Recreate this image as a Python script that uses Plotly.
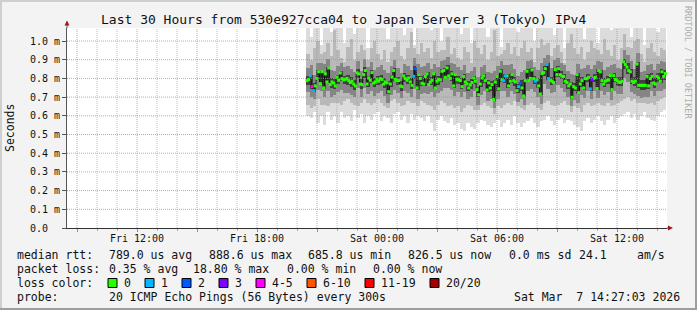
import plotly.graph_objects as go
import pandas as pd

# ---------------- data ----------------
# median RTT per 5-minute step, microseconds (Fri 20:30 .. Sat 14:25)
MEDIAN_US = [
    788, 794, 813, 756, 735, 760, 800, 836, 772, 836, 749, 824,
    781, 856, 767, 781, 775, 760, 806, 790, 829, 799, 792, 795,
    800, 788, 778, 785, 770, 760, 829, 824, 770, 767, 820, 842,
    770, 802, 790, 831, 775, 781, 794, 785, 799, 794, 770, 781,
    776, 729, 770, 808, 842, 795, 788, 788, 760, 756, 813, 799,
    790, 802, 781, 763, 811, 852, 749, 820, 800, 774, 770, 810,
    824, 767, 780, 790, 824, 749, 785, 794, 792, 838, 842, 806,
    856, 813, 800, 824, 760, 820, 795, 792, 788, 756, 810, 781,
    770, 749, 765, 778, 802, 785, 740, 713, 770, 802, 813, 788,
    738, 776, 749, 767, 687, 781, 810, 744, 838, 792, 788, 813,
    813, 760, 785, 820, 788, 781, 735, 756, 774, 749, 706, 788,
    838, 788, 800, 845, 799, 785, 792, 760, 717, 826, 831, 852,
    874, 799, 790, 785, 778, 847, 820, 852, 820, 812, 810, 785,
    778, 760, 770, 699, 756, 749, 820, 724, 770, 788, 749, 799,
    799, 806, 744, 794, 800, 806, 746, 842, 835, 788, 770, 785,
    790, 792, 815, 740, 815, 794, 788, 781, 778, 785, 888, 874,
    860, 842, 835, 785, 778, 785, 877, 763, 763, 763, 763, 763,
    811, 760, 799, 811, 776, 770, 811, 802, 785, 835, 810, 826,
]
# lost pings (of 20) per step, only the non-zero ones
LOST_PINGS = {2: 1, 3: 4, 4: 1, 64: 1, 65: 2, 118: 1, 119: 1, 127: 1,
              128: 2, 137: 1, 144: 1, 145: 1, 170: 1, 171: 3}

# smoke spread per 10-minute column, microseconds (min .. max and inner ranks)
SMOKE_MAX = [
    1100, 1020, 1100, 1100, 980, 1100, 1100, 1050, 1100, 1100, 1100, 990,
    1100, 1100, 1040, 1100, 1100, 1100, 960, 1100, 1100, 1070, 1100, 1100,
    1010, 1100, 1100, 1100, 1100, 1030, 1100, 1100, 980, 1100, 1100, 1100,
    1100, 1060, 1100, 1100, 1000, 1100, 1100, 1100, 1100, 1100, 1040, 1100,
    1100, 990, 1100, 1100, 1100, 1100, 1020, 1100, 1100, 1100, 970, 1100,
    1100, 1100, 1100, 1050, 1100, 1100, 1100, 1100, 1000, 1100, 1100, 1100,
    1100, 1100, 1030, 1100, 1100, 960, 1100, 1100, 1100, 1100, 1100, 1010,
    1100, 1100, 1100, 990, 1100, 1100, 1100, 1060, 1100, 1100, 1100, 1100,
    1100, 1020, 1100, 1100, 1100, 980, 1100, 1100, 1100, 1050, 1100, 1100,
]
SMOKE_P90 = [
    930, 900, 960, 1000, 930, 940, 990, 920, 1060, 950, 910, 890,
    970, 1010, 900, 940, 980, 950, 900, 960, 1000, 930, 900, 950,
    890, 940, 970, 1000, 920, 900, 960, 1050, 960, 930, 990, 940,
    960, 910, 1000, 940, 950, 950, 1020, 930, 960, 910, 900, 970,
    940, 880, 1000, 960, 930, 980, 900, 940, 1060, 920, 930, 950,
    990, 930, 970, 920, 960, 1000, 940, 960, 890, 960, 1010, 980,
    990, 920, 960, 980, 940, 880, 990, 1040, 960, 930, 970, 900,
    940, 1000, 960, 950, 930, 1010, 950, 920, 980, 900, 960, 1040,
    970, 960, 1000, 1010, 930, 890, 960, 990, 940, 920, 960, 950,
]
SMOKE_P75 = [
    855, 870, 820, 885, 880, 875, 905, 845, 840, 865, 880, 860,
    865, 850, 835, 895, 840, 905, 860, 890, 845, 860, 870, 845,
    830, 865, 900, 855, 830, 875, 865, 845, 910, 875, 860, 865,
    880, 850, 875, 860, 895, 900, 915, 885, 875, 860, 845, 870,
    830, 840, 860, 805, 860, 870, 835, 830, 840, 865, 895, 870,
    870, 875, 850, 815, 835, 845, 895, 900, 860, 845, 880, 910,
    925, 855, 900, 910, 885, 870, 840, 825, 820, 875, 850, 855,
    870, 850, 870, 895, 890, 845, 860, 870, 875, 855, 850, 950,
    925, 895, 850, 935, 835, 840, 870, 875, 845, 875, 895, 890,
]
SMOKE_P60 = [
    815, 820, 775, 845, 840, 830, 860, 800, 795, 820, 840, 815,
    820, 805, 790, 850, 795, 860, 815, 845, 800, 815, 820, 800,
    785, 820, 855, 810, 785, 830, 820, 800, 865, 830, 815, 820,
    835, 805, 830, 815, 850, 855, 870, 840, 830, 815, 800, 825,
    785, 795, 815, 755, 815, 825, 790, 785, 790, 820, 850, 825,
    825, 830, 805, 770, 790, 795, 850, 855, 815, 800, 835, 865,
    880, 810, 855, 865, 840, 825, 795, 780, 775, 830, 805, 810,
    825, 805, 825, 850, 845, 800, 815, 825, 830, 810, 805, 905,
    880, 850, 805, 890, 790, 790, 825, 830, 800, 830, 850, 845,
]
SMOKE_P40 = [
    765, 745, 725, 790, 770, 745, 775, 750, 745, 770, 785, 770,
    765, 755, 740, 800, 745, 800, 755, 775, 755, 765, 770, 750,
    715, 755, 785, 765, 735, 780, 770, 745, 795, 740, 760, 760,
    760, 765, 745, 765, 780, 795, 800, 785, 750, 770, 745, 770,
    735, 745, 770, 700, 755, 775, 725, 735, 680, 735, 780, 775,
    750, 775, 760, 720, 735, 700, 780, 790, 770, 750, 710, 815,
    790, 765, 770, 810, 795, 770, 745, 690, 730, 715, 755, 740,
    780, 735, 780, 740, 775, 755, 770, 730, 780, 760, 760, 850,
    825, 770, 760, 750, 740, 740, 745, 780, 750, 780, 775, 790,
]
SMOKE_P25 = [
    725, 700, 690, 740, 730, 700, 735, 700, 710, 725, 740, 720,
    720, 710, 700, 750, 700, 750, 715, 730, 705, 720, 730, 705,
    670, 710, 740, 720, 695, 735, 720, 700, 745, 690, 715, 720,
    715, 725, 700, 720, 735, 750, 750, 740, 705, 725, 700, 725,
    690, 700, 730, 660, 710, 730, 680, 690, 640, 690, 735, 730,
    700, 730, 715, 675, 690, 660, 735, 745, 725, 700, 665, 770,
    745, 720, 725, 765, 750, 725, 700, 650, 685, 670, 710, 695,
    735, 690, 735, 695, 730, 710, 725, 685, 735, 715, 715, 800,
    780, 725, 715, 705, 695, 700, 700, 735, 705, 735, 730, 745,
]
SMOKE_P10 = [
    660, 640, 650, 690, 660, 660, 650, 670, 670, 670, 660, 680,
    690, 670, 660, 650, 670, 690, 670, 660, 670, 690, 670, 650,
    640, 680, 690, 670, 650, 660, 680, 670, 670, 650, 680, 670,
    660, 650, 630, 660, 680, 670, 650, 660, 640, 650, 620, 640,
    660, 650, 630, 630, 660, 670, 650, 640, 610, 650, 640, 660,
    670, 660, 680, 650, 640, 630, 660, 670, 660, 640, 630, 670,
    680, 660, 650, 660, 670, 680, 660, 620, 650, 640, 620, 660,
    670, 650, 660, 670, 660, 650, 670, 650, 660, 670, 680, 690,
    700, 680, 690, 670, 670, 670, 665, 670, 660, 680, 690, 700,
]
SMOKE_MIN = [
    600, 590, 620, 560, 600, 550, 620, 580, 600, 560, 620, 590,
    600, 570, 630, 590, 610, 560, 600, 580, 610, 620, 570, 600,
    590, 560, 610, 620, 580, 600, 560, 610, 580, 600, 590, 570,
    600, 560, 520, 580, 600, 570, 560, 590, 550, 560, 530, 520,
    560, 540, 530, 560, 580, 570, 550, 540, 560, 580, 540, 560,
    580, 550, 600, 560, 540, 560, 570, 590, 560, 540, 570, 580,
    600, 570, 550, 580, 590, 560, 580, 570, 550, 540, 520, 570,
    590, 560, 580, 600, 570, 550, 580, 600, 560, 590, 600, 610,
    620, 590, 610, 580, 600, 620, 590, 580, 570, 600, 620, 630,
]

LOSS_LABELS = ["0", "1", "2", "3", "4-5", "6-10", "11-19", "20/20"]
LOSS_COLORS = ["#26ff00", "#00b8ff", "#0059ff", "#7e00ff",
               "#ff00ff", "#ff5500", "#ff0000", "#a00000"]

Y_TICKS = [0.0, 0.1, 0.2, 0.3, 0.4, 0.5, 0.6, 0.7, 0.8, 0.9, 1.0]
Y_TICK_TEXT = ["0.0\u00a0\u00a0", "0.1 m", "0.2 m", "0.3 m", "0.4 m", "0.5 m",
               "0.6 m", "0.7 m", "0.8 m", "0.9 m", "1.0 m"]
X_TICKS = ["2026-03-06 09:00", "2026-03-06 12:00", "2026-03-06 15:00",
           "2026-03-06 18:00", "2026-03-06 21:00", "2026-03-07 00:00",
           "2026-03-07 03:00", "2026-03-07 06:00", "2026-03-07 09:00",
           "2026-03-07 12:00"]
X_TICK_TEXT = ["", "Fri 12:00", "", "Fri 18:00", "", "Sat 00:00", "",
               "Sat 06:00", "", "Sat 12:00"]

TITLE = "Last 30 Hours from 530e927cca04 to Japan Server 3 (Tokyo) IPv4"
ROW1 = [("median rtt:", 16), ("789.0 us avg", 107.6), ("888.6 us max", 207.6),
        ("685.8 us min", 307), ("826.5 us now", 407), ("0.0 ms sd", 507.6),
        ("24.1", 577.5), ("am/s", 635.6)]
ROW2 = [("packet loss:", 16), ("0.35 % avg", 107.6), ("18.80 % max", 192.4),
        ("0.00 % min", 285.8), ("0.00 % now", 371.6)]
ROW4 = [("probe:", 16), ("20 ICMP Echo Pings (56 Bytes) every 300s", 107.6),
        ("Sat Mar\u00a0\u00a07 14:27:03 2026", 513)]

# ---------------- figure ----------------
W, H = 697, 310
L, R, T, B = 67, 30, 28, 82
PW, PH = W - L - R, H - T - B
FONT = "DejaVu Sans Mono"
TXT = "#111111"


def px(x):
    return (x - L) / PW


def py(y):
    return (H - B - y) / PH


t_med = pd.date_range("2026-03-06 20:30", periods=len(MEDIAN_US), freq="5min")
t_smk = pd.date_range("2026-03-06 20:32:30", periods=len(SMOKE_MAX), freq="10min")
med = [v / 1000 for v in MEDIAN_US]

fig = go.Figure()


def band(lo, hi, color):
    fig.add_trace(go.Bar(
        x=t_smk, base=[a / 1000 for a in lo],
        y=[(b - a) / 1000 for a, b in zip(lo, hi)],
        width=600000, marker=dict(color=color, line=dict(width=0)),
        hoverinfo="skip"))


band(SMOKE_MIN, SMOKE_MAX, "#dcdcdc")
band(SMOKE_P10, SMOKE_P90, "#b9b9b9")
band(SMOKE_P25, SMOKE_P75, "#858585")
band(SMOKE_P40, SMOKE_P60, "#404040")

fig.add_trace(go.Scatter(x=t_med, y=med, mode="lines",
                         line=dict(color="#111111", width=1, shape="hvh"),
                         hoverinfo="skip"))


def loss_class(n):
    if n <= 3:
        return n
    if n <= 5:
        return 4
    if n <= 10:
        return 5
    if n <= 19:
        return 6
    return 7


cls = [loss_class(LOST_PINGS.get(i, 0)) for i in range(len(med))]
for c, col in enumerate(LOSS_COLORS):
    xs = [t for t, k in zip(t_med, cls) if k == c]
    ys = [v for v, k in zip(med, cls) if k == c]
    if xs:
        fig.add_trace(go.Scatter(x=xs, y=ys, mode="markers",
                                 marker=dict(symbol="square", size=3, color=col,
                                             line=dict(width=0)),
                                 hoverinfo="skip"))

shapes = []
# grid (drawn above the smoke, like rrdtool)
MAJ = "rgba(245,110,110,0.75)"
MIN = "rgba(150,150,150,0.6)"
hours = pd.date_range("2026-03-06 09:00", "2026-03-07 14:00", freq="1h")
major_set = set(pd.to_datetime(X_TICKS))
for hh in hours:
    shapes.append(dict(type="line", xref="x", yref="paper", x0=hh, x1=hh, y0=0, y1=1,
                       line=dict(color=MAJ if hh in major_set else MIN, width=1,
                                 dash="1px,1px"), layer="above"))
for v in Y_TICKS[1:]:
    shapes.append(dict(type="line", xref="paper", yref="y", x0=0, x1=1, y0=v, y1=v,
                       line=dict(color=MAJ, width=1, dash="1px,1px"), layer="above"))

# axis extensions and arrows
shapes.append(dict(type="line", xref="paper", yref="paper", x0=0, x1=0,
                   y0=1, y1=py(22), line=dict(color="#555555", width=1)))
shapes.append(dict(type="line", xref="paper", yref="paper", x0=1, x1=px(670),
                   y0=0, y1=0, line=dict(color="#333333", width=1)))
shapes.append(dict(type="path", xref="paper", yref="paper",
                   path=f"M {px(64.5)},{py(25.5)} L {px(67)},{py(20.5)} L {px(69.5)},{py(25.5)} Z",
                   fillcolor="#a01818", line=dict(width=0)))
shapes.append(dict(type="path", xref="paper", yref="paper",
                   path=f"M {px(668)},{py(225.5)} L {px(673)},{py(228)} L {px(668)},{py(230.5)} Z",
                   fillcolor="#a01818", line=dict(width=0)))

# 3D frame
shapes.append(dict(type="line", xref="paper", yref="paper", x0=px(0), x1=px(W),
                   y0=py(1), y1=py(1), line=dict(color="#cfcfcf", width=2)))
shapes.append(dict(type="line", xref="paper", yref="paper", x0=px(1), x1=px(1),
                   y0=py(0), y1=py(H), line=dict(color="#cfcfcf", width=2)))
shapes.append(dict(type="line", xref="paper", yref="paper", x0=px(0), x1=px(W),
                   y0=py(H - 1), y1=py(H - 1), line=dict(color="#9e9e9e", width=2)))
shapes.append(dict(type="line", xref="paper", yref="paper", x0=px(W - 1), x1=px(W - 1),
                   y0=py(0), y1=py(H), line=dict(color="#9e9e9e", width=2)))

# loss colour legend boxes
BOX_X = [108, 145, 182, 219, 256, 307, 365, 430]
LAB_X = [123, 160, 197, 234, 271, 322, 380, 445]
for bx, col in zip(BOX_X, LOSS_COLORS):
    shapes.append(dict(type="rect", xref="paper", yref="paper",
                       x0=px(bx), x1=px(bx + 9), y0=py(278.5), y1=py(287.5),
                       fillcolor=col, line=dict(color="#000000", width=1)))

ann = []


def text(s, x, y, size=11.5, anchor="left", angle=0, color=TXT):
    ann.append(dict(text=s.replace("  ", "\u00a0\u00a0"), x=px(x), y=py(y),
                    xref="paper", yref="paper", xanchor=anchor, yanchor="middle",
                    showarrow=False, textangle=angle, borderpad=0,
                    font=dict(family=FONT, size=size, color=color)))


text(TITLE, 100, 19, size=13)
text("Seconds", 10, 128, anchor="center", angle=-90)
text("RRDTOOL / TOBI OETIKER", 688, 62, size=8.5, anchor="center", angle=90,
     color="#acacac")
for s, x in ROW1:
    text(s, x, 255)
for s, x in ROW2:
    text(s, x, 269)
text("loss color:", 16, 283)
for s, x in zip(LOSS_LABELS, LAB_X):
    text(s, x, 283)
for s, x in ROW4:
    text(s, x, 297)

fig.update_layout(
    width=W, height=H, margin=dict(l=L, r=R, t=T, b=B, pad=0),
    paper_bgcolor="#f3f3f3", plot_bgcolor="#ffffff",
    barmode="overlay", bargap=0, showlegend=False,
    font=dict(family=FONT, size=10, color=TXT),
    shapes=shapes, annotations=ann,
    xaxis=dict(type="date", range=["2026-03-06 08:30", "2026-03-07 14:30"],
               tickvals=X_TICKS, ticktext=X_TICK_TEXT, showgrid=False,
               showline=True, linecolor="#333333", linewidth=1,
               ticks="outside", ticklen=3, tickcolor="#e07070",
               ticklabelstandoff=-2,
               minor=dict(dtick=3600000, tick0="2026-03-06 09:00", ticks="outside",
                          ticklen=2, tickcolor="#aaaaaa", showgrid=False),
               tickfont=dict(family=FONT, size=10, color=TXT), zeroline=False,
               fixedrange=True),
    yaxis=dict(range=[0, 1.0695], tickvals=Y_TICKS, ticktext=Y_TICK_TEXT,
               showgrid=False, showline=True, linecolor="#555555", linewidth=1,
               ticks="outside", ticklen=4, tickcolor="#555555",
               tickfont=dict(family=FONT, size=10, color=TXT), zeroline=False,
               fixedrange=True),
)

fig.write_html("out.html")
